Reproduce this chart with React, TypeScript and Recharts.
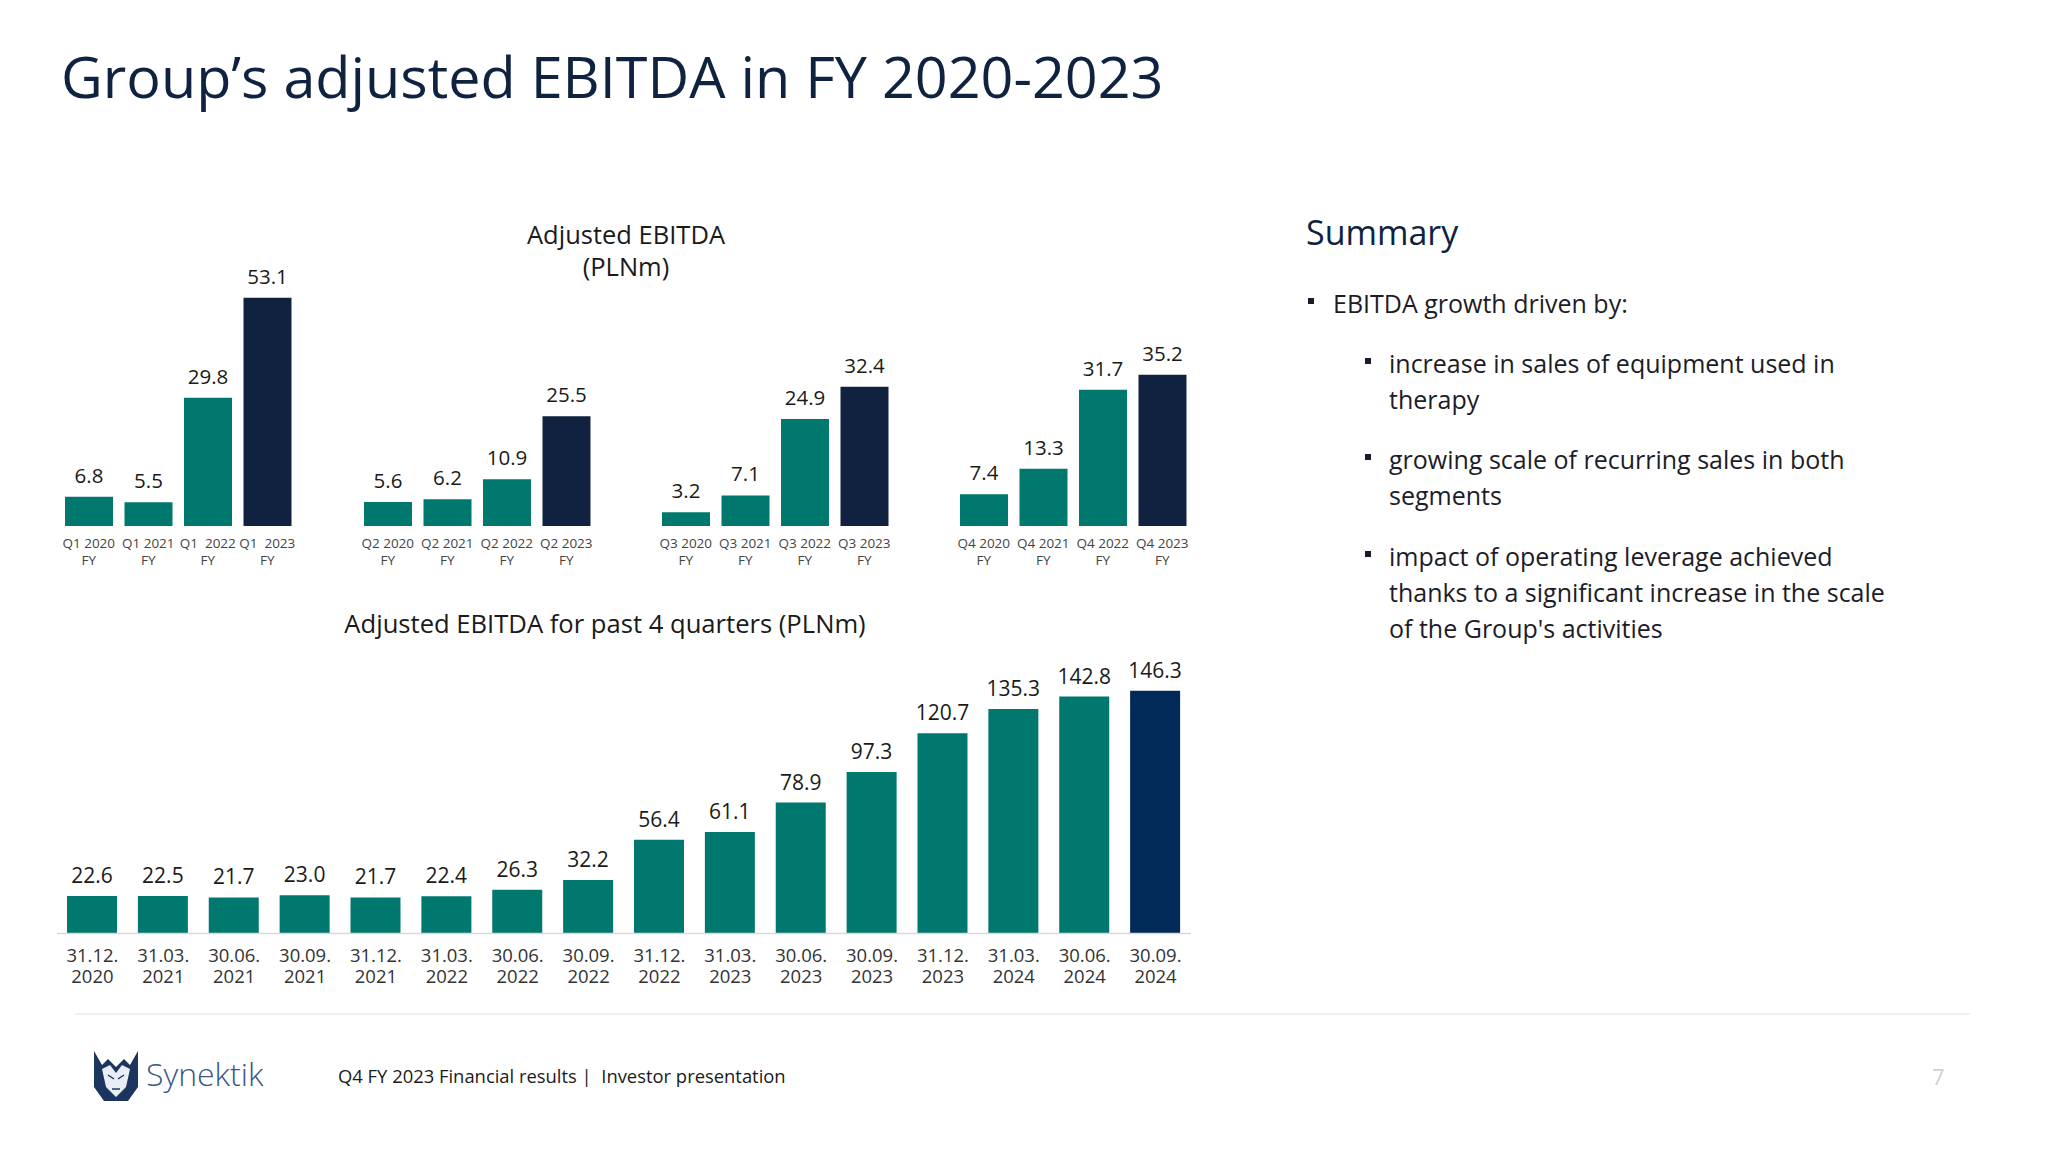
import { BarChart, Bar, XAxis, YAxis, Cell, LabelList } from 'recharts';

// quarterly adjusted EBITDA, PLNm
const quarters = ['Q1', 'Q2', 'Q3', 'Q4'];
const years = ['2020', '2021', '2022', '2023'];
const q1Values = [6.8, 5.5, 29.8, 53.1];
const q2Values = [5.6, 6.2, 10.9, 25.5];
const q3Values = [3.2, 7.1, 24.9, 32.4];
const q4Values = [7.4, 13.3, 31.7, 35.2];
const quarterValues = [q1Values, q2Values, q3Values, q4Values];

// trailing four quarters, PLNm
const ttmDates = [
  '31.12.', '31.03.', '30.06.', '30.09.', '31.12.', '31.03.', '30.06.', '30.09.',
  '31.12.', '31.03.', '30.06.', '30.09.', '31.12.', '31.03.', '30.06.', '30.09.',
];
const ttmYears = [
  '2020', '2021', '2021', '2021', '2021', '2022', '2022', '2022',
  '2022', '2023', '2023', '2023', '2023', '2024', '2024', '2024',
];
const ttmValues = [
  22.6, 22.5, 21.7, 23.0, 21.7, 22.4, 26.3, 32.2,
  56.4, 61.1, 78.9, 97.3, 120.7, 135.3, 142.8, 146.3,
];

const TEAL = '#00786e';
const NAVY = '#10223f';
const NAVY_LAST = '#012a58';
const FONT = '"Open Sans", "Noto Sans", sans-serif';
const TOP_PAD = 40;

const summaryItems = [
  ['increase in sales of equipment used in', 'therapy'],
  ['growing scale of recurring sales in both', 'segments'],
  ['impact of operating leverage achieved', 'thanks to a significant increase in the scale', "of the Group's activities"],
];

function QuarterTick({ x, y, payload }: any) {
  return (
    <text x={x} y={y} textAnchor="middle" fontSize={13.5} fill="#444" fontFamily={FONT}>
      <tspan x={x} dy={22} style={{ whiteSpace: 'pre' }}>{payload.value}</tspan>
      <tspan x={x} dy={16.5}>FY</tspan>
    </text>
  );
}

function DateTick({ x, y, payload, index }: any) {
  return (
    <text x={x} y={y} textAnchor="middle" fontSize={18.5} fill="#333" fontFamily={FONT}>
      <tspan x={x} dy={29}>{payload.value}</tspan>
      <tspan x={x} dy={21}>{ttmYears[index]}</tspan>
    </text>
  );
}

const fmt = (v: any) => Number(v).toFixed(1);

function QuarterChart({ qi }: { qi: number }) {
  const data = years.map((yr, i) => ({
    label: `${quarters[qi]}${i >= 2 && qi === 0 ? '  ' : ' '}${yr}`,
    value: quarterValues[qi][i],
  }));
  return (
    <BarChart width={238} height={TOP_PAD + 258 + 50} data={data} margin={{ top: TOP_PAD, right: 0, bottom: 0, left: 0 }}>
      <XAxis
        dataKey="label"
        axisLine={false}
        tickLine={false}
        tickSize={0}
        tickMargin={0}
        height={50}
        interval={0}
        tick={<QuarterTick />}
      />
      <YAxis hide domain={[0, 60]} />
      <Bar dataKey="value" barSize={48} isAnimationActive={false}>
        {data.map((_, i) => (
          <Cell key={i} fill={i === data.length - 1 ? NAVY : TEAL} />
        ))}
        <LabelList
          dataKey="value"
          position="top"
          offset={14}
          formatter={fmt}
          style={{ fontSize: 20.5, fill: '#1a1a1a', fontFamily: FONT }}
        />
      </Bar>
    </BarChart>
  );
}

function Logo() {
  return (
    <svg x={88} y={1047} width={56} height={56} viewBox="0 0 56 56">
      <path d="M6 4 L14 18 L20 12 L28 20 L36 12 L42 18 L50 4 L50 40 L40 54 L16 54 L6 40 Z" fill="#1b355f" />
      <path d="M14 22 L22 18 L28 26 L34 18 L42 22 L38 40 L28 50 L18 40 Z" fill="#e9eef5" />
      <path d="M20 28 L26 32 M36 28 L30 32 M24 42 L32 42" stroke="#1b355f" strokeWidth={1.5} />
    </svg>
  );
}

export default function App() {
  const ttmData = ttmDates.map((d, i) => ({ date: d, value: ttmValues[i] }));
  return (
    <div style={{ position: 'absolute', left: 0, top: 0, width: 2048, height: 1152, background: '#fff', fontFamily: FONT }}>
      <svg width={2048} height={1152} style={{ position: 'absolute', left: 0, top: 0 }}>
        <text x={61} y={98} fontSize={57.5} fontWeight={500} fill="#0f2341" fontFamily={FONT}>
          Group’s adjusted EBITDA in FY 2020-2023
        </text>

        <text x={626} y={244} textAnchor="middle" fontSize={25.5} fill="#1a1a1a" fontFamily={FONT}>Adjusted EBITDA</text>
        <text x={626} y={276} textAnchor="middle" fontSize={25.5} fill="#1a1a1a" fontFamily={FONT}>(PLNm)</text>
        <text x={605} y={633} textAnchor="middle" fontSize={25.6} fill="#1a1a1a" fontFamily={FONT}>
          Adjusted EBITDA for past 4 quarters (PLNm)
        </text>

        <text x={1306} y={245} fontSize={34} fill="#0f2341" fontFamily={FONT}>Summary</text>
        <rect x={1308} y={298} width={6} height={6} fill="#1a1a2a" />
        <text x={1333} y={313} fontSize={25} fill="#1c1c28" fontFamily={FONT}>EBITDA growth driven by:</text>
        {summaryItems.map((lines, k) => {
          const top = [373, 469, 566][k];
          return (
            <g key={k}>
              <rect x={1365} y={top - 15} width={6} height={6} fill="#1a1a2a" />
              {lines.map((ln, j) => (
                <text key={j} x={1389} y={top + j * 36} fontSize={25} fill="#1c1c28" fontFamily={FONT}>
                  {ln}
                </text>
              ))}
            </g>
          );
        })}

        <line x1={75} x2={1970} y1={1014} y2={1014} stroke="#ededed" strokeWidth={1.5} />
        <Logo />
        <text x={146} y={1086} fontSize={32} fontWeight={300} fill="#3b5686" fontFamily={FONT}>Synektik</text>
        <text x={338} y={1083} fontSize={18.4} fill="#1a1a1a" fontFamily={FONT} style={{ whiteSpace: 'pre' }}>
          Q4 FY 2023 Financial results |  Investor presentation
        </text>
        <text x={1932} y={1085} fontSize={22} fill="#d0d0d0" fontFamily={FONT}>7</text>
      </svg>

      {quarters.map((_, qi) => (
        <div key={qi} style={{ position: 'absolute', left: 59.2 + qi * 298.3, top: 268 - TOP_PAD }}>
          <QuarterChart qi={qi} />
        </div>
      ))}

      <div style={{ position: 'absolute', left: 57, top: 667.6 - TOP_PAD }}>
        <BarChart width={1134} height={TOP_PAD + 265.4 + 60} data={ttmData} margin={{ top: TOP_PAD, right: 0, bottom: 0, left: 0 }}>
          <XAxis
            dataKey="date"
            axisLine={{ stroke: '#d9d9d9', strokeWidth: 1.5 }}
            tickLine={false}
            tickSize={0}
            tickMargin={0}
            height={60}
            interval={0}
            tick={<DateTick />}
          />
          <YAxis hide domain={[0, 160]} />
          <Bar dataKey="value" barSize={50} isAnimationActive={false}>
            {ttmData.map((_, i) => (
              <Cell key={i} fill={i === ttmData.length - 1 ? NAVY_LAST : TEAL} />
            ))}
            <LabelList
              dataKey="value"
              position="top"
              offset={13}
              formatter={fmt}
              style={{ fontSize: 21, fill: '#1a1a1a', fontFamily: FONT }}
            />
          </Bar>
        </BarChart>
      </div>
    </div>
  );
}
